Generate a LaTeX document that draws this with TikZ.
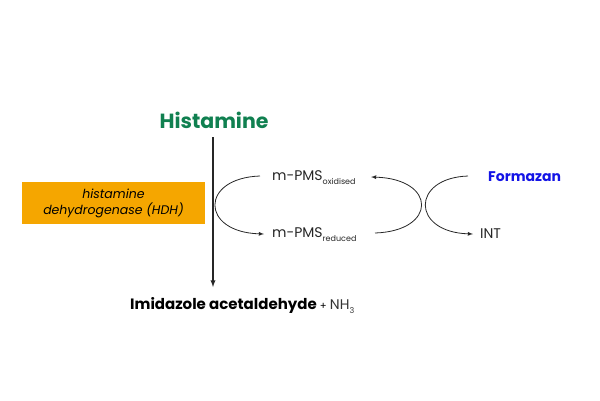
\documentclass[tikz,border=0pt]{standalone}
\usepackage{fontspec}
\setmainfont{Poppins}
\newcommand{\lowsub}[1]{\raisebox{-4pt}{\fontsize{8}{9}\selectfont #1}}
\begin{document}
\begin{tikzpicture}[x=1pt,y=-1pt,
  lbl/.style={font=\fontsize{14}{16}\selectfont, text=black!85, inner sep=0},
  arr/.style={-latex, line width=0.8pt, black!85}]
\useasboundingbox (0,0) rectangle (600,400);
\node[font=\fontsize{20.5}{24}\selectfont\bfseries, text={rgb,255:red,16;green,128;blue,80}] (his) at (214,120) {Histamine};
\node[font=\fontsize{15}{17}\selectfont\bfseries, anchor=west, inner sep=0] (imi) at (130,306) {Imidazole acetaldehyde {\mdseries\fontsize{10}{12}\selectfont +} {\mdseries\fontsize{14}{16}\selectfont\color{black!80}NH\lowsub{3}}};
\draw[arr, line width=1.3pt] (213,137) -- (213,287);
\node[fill={rgb,255:red,245;green,166;blue,0}, minimum width=183, minimum height=42, inner sep=0, align=center, font=\fontsize{12.5}{16}\selectfont\itshape] (hdh) at (113.5,203) {histamine\\dehydrogenase (HDH)};
\node[lbl, anchor=west] (ox) at (272,178) {m-PMS\lowsub{oxidised}};
\node[lbl, anchor=west] (red) at (272,235) {m-PMS\lowsub{reduced}};
\node[font=\fontsize{14}{16}\selectfont\bfseries, text={rgb,255:red,20;green,20;blue,230}, anchor=west, inner sep=0] (for) at (488,177) {Formazan};
\node[lbl, anchor=west] (int) at (480,234) {INT};
\coordinate (a1) at (260,176);
\coordinate (a2) at (264,234);
\coordinate (b1) at (375,233);
\coordinate (b2) at (371,177);
\coordinate (c1) at (468,176);
\coordinate (c2) at (473,234);
\draw[arr] (a1) .. controls (200,178) and (200,232) .. (a2);
\draw[arr] (b1) .. controls (437,231) and (437,179) .. (b2);
\draw[arr] (c1) .. controls (411,178) and (411,232) .. (c2);
\end{tikzpicture}
\end{document}
